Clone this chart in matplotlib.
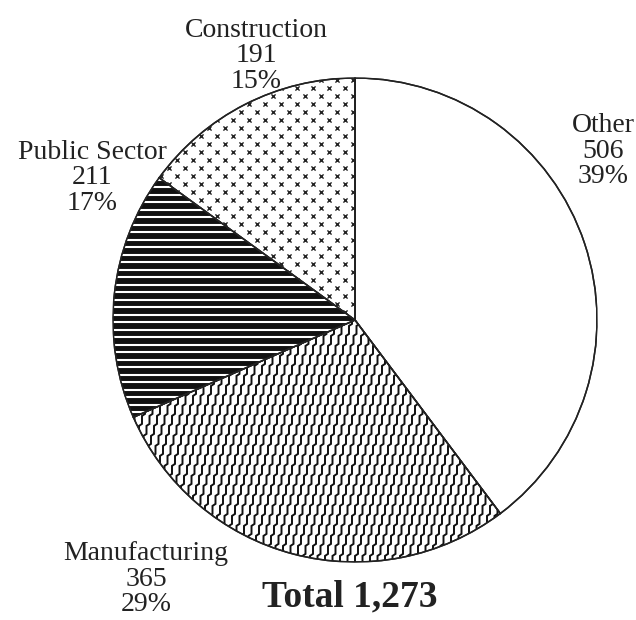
import numpy as np
import matplotlib
matplotlib.use("Agg")
import matplotlib.pyplot as plt
from matplotlib.patches import Wedge

# Employment by sector
sectors = ["Other", "Manufacturing", "Public Sector", "Construction"]
counts = [506, 365, 211, 191]
shares = ["39%", "29%", "17%", "15%"]
total_label = "Total 1,273"

W, H = 636, 620
fig = plt.figure(figsize=(W / 100, H / 100), dpi=100)
fig.patch.set_facecolor("white")

cx, cy, R = 355, 300, 242  # pie centre (from bottom) and radius in pixels
ax = fig.add_axes([(cx - R) / W, (cy - R) / H, 2 * R / W, 2 * R / H])

wedges, _ = ax.pie(counts, startangle=90, counterclock=False, radius=1,
                   colors=["white"] * 4,
                   wedgeprops=dict(edgecolor="#222222", linewidth=1.1))
ax.set_xlim(-1.0, 1.0)
ax.set_ylim(-1.0, 1.0)
ax.set_aspect("equal")
ax.axis("off")

px = 1.0 / R  # one pixel in data units

# Manufacturing: stair-step slanted lines
w_man = wedges[1]
step_h, step_s, gap = 10 * px, 3 * px, 7.5 * px
n_steps = int(2.2 / step_h)
for x0 in np.arange(-1.5, 1.6, gap):
    xs, ys = [], []
    y = 1.05
    x = x0
    for k in range(n_steps):
        xs += [x, x, x - step_s]
        ys += [y, y - step_h + 2 * px, y - step_h]
        x -= step_s
        y -= step_h
    ln, = ax.plot(xs, ys, color="#111111", lw=1.4, solid_joinstyle="miter")
    ln.set_clip_path(w_man)

# Public Sector: black with thin white horizontal gaps
w_pub = wedges[2]
w_pub.set_facecolor("#111111")
for yy in np.arange(-1.0, 1.0, 7.5 * px):
    ln, = ax.plot([-1.05, 1.05], [yy, yy], color="white", lw=1.5)
    ln.set_clip_path(w_pub)

# Construction: staggered small crosses
w_con = wedges[3]
gx, gy = 16 * px, 8 * px
pts_x, pts_y = [], []
for i, yy in enumerate(np.arange(-0.2, 1.05, gy)):
    off = (gx / 2) if i % 2 else 0.0
    for xx in np.arange(-1.0 + off, 0.05, gx):
        pts_x.append(xx)
        pts_y.append(yy)
sc = ax.scatter(pts_x, pts_y, marker="x", s=9, linewidths=1.0, color="#222222")
sc.set_clip_path(w_con)

# wedge outlines on top of the fills
for w in wedges:
    ax.add_patch(Wedge(w.center, w.r, w.theta1, w.theta2,
                       facecolor="none", edgecolor="#222222",
                       linewidth=1.1, zorder=5))

font = "Liberation Serif"
label_pos = {
    "Other": (603, 151),
    "Manufacturing": (146, 579),
    "Public Sector": (92, 178),
    "Construction": (256, 56),
}
for name, n, pct in zip(sectors, counts, shares):
    x, y = label_pos[name]
    fig.text(x / W, 1 - y / H, f"{name}\n{n}\n{pct}", ha="center", va="center",
             fontsize=20, family=font, color="#222222", linespacing=1.05)

fig.text(350 / W, 1 - 597 / H, total_label, ha="center", va="center",
         fontsize=27, family=font, fontweight="bold", color="#222222")

fig.savefig("out.png", dpi=100, facecolor="white")
